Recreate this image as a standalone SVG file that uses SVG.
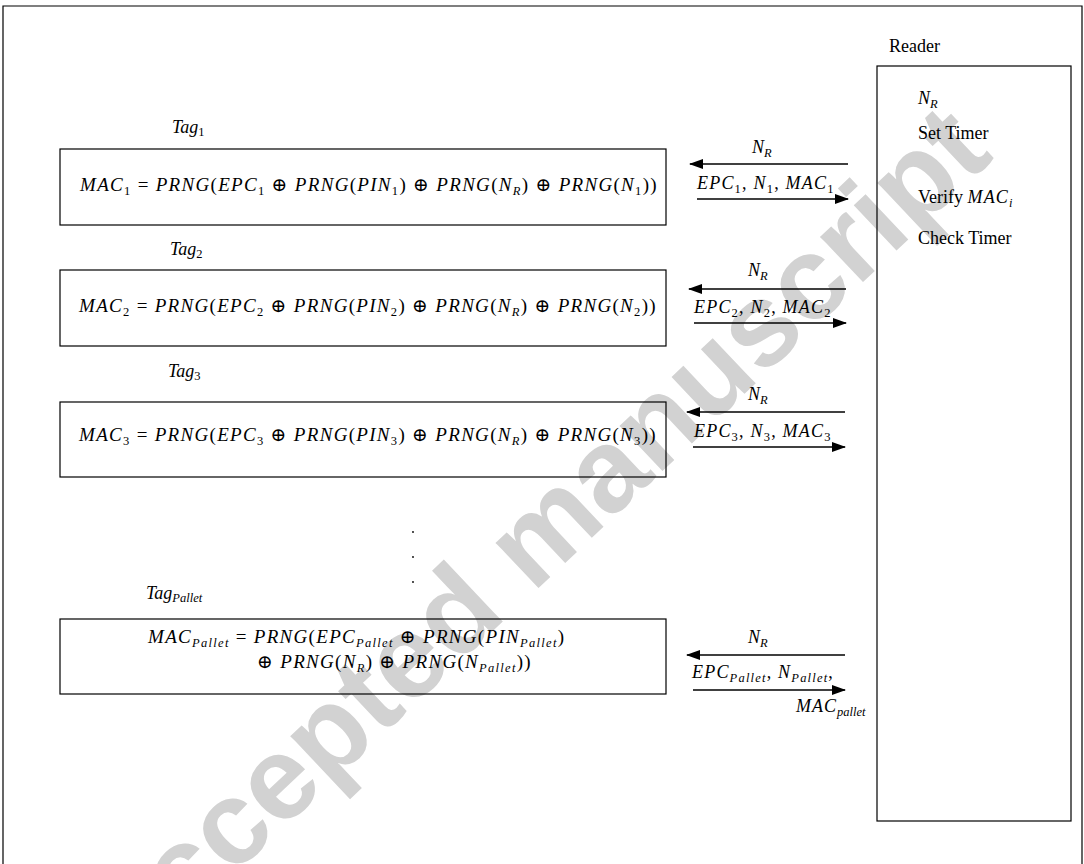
<svg xmlns="http://www.w3.org/2000/svg" width="1084" height="864" viewBox="0 0 1084 864">
<style>
.t{font-family:"Liberation Serif","Times New Roman",Times,"DejaVu Serif",serif;font-size:18px;fill:#000}
.f{font-size:19px;letter-spacing:1.3px}
.l{letter-spacing:1.2px}
.i{font-style:italic}
.s{font-size:12.5px}
.box{fill:none;stroke:#000;stroke-width:1.2}
.wm{font-family:"Liberation Sans",Arial,sans-serif;font-weight:bold;font-size:118px;fill:#d2d2d2}
#connectors line{stroke:#000;stroke-width:1.3;marker-end:url(#ah)}
</style>
<defs>
<marker id="ah" markerUnits="userSpaceOnUse" markerWidth="14" markerHeight="10" refX="13" refY="5" orient="auto"><path d="M0,0 L14,5 L0,10 z" fill="#000"/></marker>
</defs>
<rect width="1084" height="864" fill="#fff"/>
<text class="wm" x="184" y="922" transform="rotate(-43.3 184 922)">ccepted manuscript</text>
<path d="M3,864 V6 H1082 V864" fill="none" stroke="#000" stroke-width="1.2"/>

<g id="tag1">
<text class="t" x="172" y="133"><tspan class="i">Tag</tspan><tspan class="s" dy="3">1</tspan></text>
<rect class="box" x="60" y="149" width="606" height="76"/>
<text class="t f" x="80" y="191"><tspan class="i">MAC</tspan><tspan class="s" dy="4">1</tspan><tspan dy="-4"> = </tspan><tspan class="i">PRNG</tspan>(<tspan class="i">EPC</tspan><tspan class="s" dy="4">1</tspan><tspan dy="-4"> ⊕ </tspan><tspan class="i">PRNG</tspan>(<tspan class="i">PIN</tspan><tspan class="s" dy="4">1</tspan><tspan dy="-4">) ⊕ </tspan><tspan class="i">PRNG</tspan>(<tspan class="i">N</tspan><tspan class="s i" dy="4">R</tspan><tspan dy="-4">) ⊕ </tspan><tspan class="i">PRNG</tspan>(<tspan class="i">N</tspan><tspan class="s" dy="4">1</tspan><tspan dy="-4">))</tspan></text>
</g>

<g id="tag2">
<text class="t" x="170" y="255"><tspan class="i">Tag</tspan><tspan class="s" dy="3">2</tspan></text>
<rect class="box" x="60" y="270" width="606" height="76"/>
<text class="t f" x="79" y="312"><tspan class="i">MAC</tspan><tspan class="s" dy="4">2</tspan><tspan dy="-4"> = </tspan><tspan class="i">PRNG</tspan>(<tspan class="i">EPC</tspan><tspan class="s" dy="4">2</tspan><tspan dy="-4"> ⊕ </tspan><tspan class="i">PRNG</tspan>(<tspan class="i">PIN</tspan><tspan class="s" dy="4">2</tspan><tspan dy="-4">) ⊕ </tspan><tspan class="i">PRNG</tspan>(<tspan class="i">N</tspan><tspan class="s i" dy="4">R</tspan><tspan dy="-4">) ⊕ </tspan><tspan class="i">PRNG</tspan>(<tspan class="i">N</tspan><tspan class="s" dy="4">2</tspan><tspan dy="-4">))</tspan></text>
</g>

<g id="tag3">
<text class="t" x="168" y="377"><tspan class="i">Tag</tspan><tspan class="s" dy="3">3</tspan></text>
<rect class="box" x="60" y="402" width="606" height="75"/>
<text class="t f" x="79" y="441"><tspan class="i">MAC</tspan><tspan class="s" dy="4">3</tspan><tspan dy="-4"> = </tspan><tspan class="i">PRNG</tspan>(<tspan class="i">EPC</tspan><tspan class="s" dy="4">3</tspan><tspan dy="-4"> ⊕ </tspan><tspan class="i">PRNG</tspan>(<tspan class="i">PIN</tspan><tspan class="s" dy="4">3</tspan><tspan dy="-4">) ⊕ </tspan><tspan class="i">PRNG</tspan>(<tspan class="i">N</tspan><tspan class="s i" dy="4">R</tspan><tspan dy="-4">) ⊕ </tspan><tspan class="i">PRNG</tspan>(<tspan class="i">N</tspan><tspan class="s" dy="4">3</tspan><tspan dy="-4">))</tspan></text>
</g>

<g id="dots">
<circle cx="413" cy="532" r="0.9" fill="#000"/>
<circle cx="413" cy="557" r="0.9" fill="#000"/>
<circle cx="413" cy="582" r="0.9" fill="#000"/>
</g>

<g id="tagPallet">
<text class="t" x="146" y="599"><tspan class="i">Tag</tspan><tspan class="s i" dy="3">Pallet</tspan></text>
<rect class="box" x="60" y="619" width="606" height="75"/>
<text class="t f" x="148" y="643"><tspan class="i">MAC</tspan><tspan class="s i" dy="4">Pallet</tspan><tspan dy="-4"> = </tspan><tspan class="i">PRNG</tspan>(<tspan class="i">EPC</tspan><tspan class="s i" dy="4">Pallet</tspan><tspan dy="-4"> ⊕ </tspan><tspan class="i">PRNG</tspan>(<tspan class="i">PIN</tspan><tspan class="s i" dy="4">Pallet</tspan><tspan dy="-4">)</tspan></text>
<text class="t f" x="257" y="668">⊕ <tspan class="i">PRNG</tspan>(<tspan class="i">N</tspan><tspan class="s i" dy="4">R</tspan><tspan dy="-4">) ⊕ </tspan><tspan class="i">PRNG</tspan>(<tspan class="i">N</tspan><tspan class="s i" dy="4">Pallet</tspan><tspan dy="-4">))</tspan></text>
</g>

<g id="reader">
<text class="t" x="889" y="52">Reader</text>
<rect class="box" x="877" y="66" width="194" height="755"/>
<text class="t" x="918" y="104"><tspan class="i">N</tspan><tspan class="s i" dy="4">R</tspan></text>
<text class="t" x="918" y="139">Set Timer</text>
<text class="t" x="918" y="203">Verify <tspan class="i" letter-spacing="1.2">MAC</tspan><tspan class="s i" dy="4">i</tspan></text>
<text class="t" x="918" y="244">Check Timer</text>
</g>

<g id="connectors">
<line x1="848" y1="164" x2="690" y2="164"/>
<line x1="697" y1="199" x2="848" y2="199"/>
<line x1="846" y1="289" x2="689" y2="289"/>
<line x1="694" y1="323" x2="846" y2="323"/>
<line x1="845" y1="412" x2="687" y2="412"/>
<line x1="693" y1="447" x2="845" y2="447"/>
<line x1="845" y1="655" x2="687" y2="655"/>
<line x1="693" y1="690" x2="845" y2="690"/>
</g>

<g id="labels">
<text class="t" x="752" y="153"><tspan class="i">N</tspan><tspan class="s i" dy="4">R</tspan></text>
<text class="t l" x="697" y="189"><tspan class="i">EPC</tspan><tspan class="s" dy="4">1</tspan><tspan dy="-4">, </tspan><tspan class="i">N</tspan><tspan class="s" dy="4">1</tspan><tspan dy="-4">, </tspan><tspan class="i">MAC</tspan><tspan class="s" dy="4">1</tspan></text>
<text class="t" x="748" y="276"><tspan class="i">N</tspan><tspan class="s i" dy="4">R</tspan></text>
<text class="t l" x="694" y="313"><tspan class="i">EPC</tspan><tspan class="s" dy="4">2</tspan><tspan dy="-4">, </tspan><tspan class="i">N</tspan><tspan class="s" dy="4">2</tspan><tspan dy="-4">, </tspan><tspan class="i">MAC</tspan><tspan class="s" dy="4">2</tspan></text>
<text class="t" x="748" y="400"><tspan class="i">N</tspan><tspan class="s i" dy="4">R</tspan></text>
<text class="t l" x="694" y="437"><tspan class="i">EPC</tspan><tspan class="s" dy="4">3</tspan><tspan dy="-4">, </tspan><tspan class="i">N</tspan><tspan class="s" dy="4">3</tspan><tspan dy="-4">, </tspan><tspan class="i">MAC</tspan><tspan class="s" dy="4">3</tspan></text>
<text class="t" x="748" y="643"><tspan class="i">N</tspan><tspan class="s i" dy="4">R</tspan></text>
<text class="t l" x="692" y="678"><tspan class="i">EPC</tspan><tspan class="s i" dy="4">Pallet</tspan><tspan dy="-4">, </tspan><tspan class="i">N</tspan><tspan class="s i" dy="4">Pallet</tspan><tspan dy="-4">,</tspan></text>
<text class="t" x="796" y="712"><tspan class="i" letter-spacing="1">MAC</tspan><tspan class="s i" dy="4">pallet</tspan></text>
</g>
</svg>
